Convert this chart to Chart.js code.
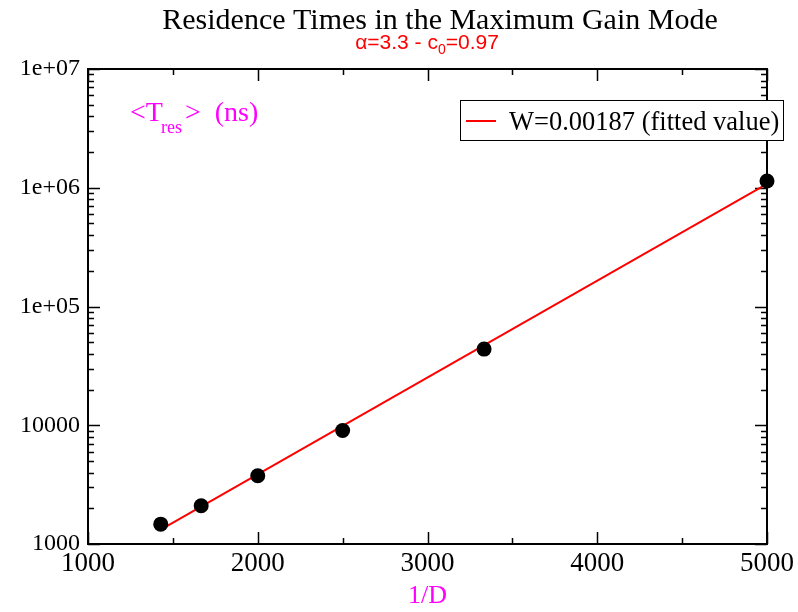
<!DOCTYPE html>
<html>
<head>
<meta charset="utf-8">
<script src="https://cdn.jsdelivr.net/npm/chart.js@4/dist/chart.umd.min.js"></script>
<style>
html, body { margin: 0; padding: 0; background: #fff; }
</style>
</head>
<body>
<canvas id="resChart" width="798" height="612"></canvas>
<script>
// measured points: 1/D vs mean residence time (ns)
var invD = [1428.6, 1666.7, 2000, 2500, 3333.3, 5000];
var tRes = [1470, 2100, 3760, 9030, 43800, 1140000];
// fitted exponential, end points
var fitX = [1428.6, 5000];
var fitY = [1320, 1080000];

var xTicks = [1000, 2000, 3000, 4000, 5000];
var yTicks = [1000, 10000, 100000, 1000000, 10000000];
var yTickLabels = ['1000', '10000', '1e+05', '1e+06', '1e+07'];
var fitLabel = 'W=0.00187 (fitted value)';

var serif = "'Liberation Serif', 'Times New Roman', serif";
var sans = "'Liberation Sans', Arial, sans-serif";

// frame, inward ticks, title, legend and floating labels
var decor = {
  id: 'decor',
  beforeDatasetsDraw: function(chart) {
    var c = chart.ctx, a = chart.chartArea;
    var xs = chart.scales.x, ys = chart.scales.y;
    c.save();
    c.strokeStyle = '#000';
    c.lineWidth = 2;
    c.strokeRect(a.left, a.top, a.right - a.left, a.bottom - a.top);
    c.lineWidth = 1.5;
    c.beginPath();
    xTicks.forEach(function(v) {
      var p = Math.round(xs.getPixelForValue(v)) + 0.5;
      c.moveTo(p, a.bottom); c.lineTo(p, a.bottom - 12);
      c.moveTo(p, a.top); c.lineTo(p, a.top + 12);
    });
    for (var v = 1500; v < 5000; v += 1000) {
      var p = Math.round(xs.getPixelForValue(v)) + 0.5;
      c.moveTo(p, a.bottom); c.lineTo(p, a.bottom - 6);
      c.moveTo(p, a.top); c.lineTo(p, a.top + 6);
    }
    yTicks.forEach(function(v) {
      var p = Math.round(ys.getPixelForValue(v)) + 0.5;
      c.moveTo(a.left, p); c.lineTo(a.left + 12, p);
      c.moveTo(a.right, p); c.lineTo(a.right - 12, p);
    });
    for (var d = 1000; d < 1e7; d *= 10) {
      for (var k = 2; k < 10; k++) {
        var q = Math.round(ys.getPixelForValue(d * k)) + 0.5;
        c.moveTo(a.left, q); c.lineTo(a.left + 6, q);
        c.moveTo(a.right, q); c.lineTo(a.right - 6, q);
      }
    }
    c.stroke();
    c.restore();
  },
  afterDraw: function(chart) {
    var c = chart.ctx;
    c.save();
    c.textBaseline = 'alphabetic';

    // title
    c.fillStyle = '#000';
    c.font = '30px ' + serif;
    c.textAlign = 'center';
    c.fillText('Residence Times in the Maximum Gain Mode', 440, 29);

    // subtitle with subscript
    c.fillStyle = '#ff0000';
    c.textAlign = 'left';
    c.font = '21px ' + sans;
    var s1 = '\u03b1=3.3 - c', s2 = '=0.97';
    var w1 = c.measureText(s1).width;
    c.font = '14px ' + sans;
    var wSub = c.measureText('0').width;
    c.font = '21px ' + sans;
    var w2 = c.measureText(s2).width;
    var sx = 427 - (w1 + wSub + w2) / 2;
    c.fillText(s1, sx, 49);
    c.font = '14px ' + sans;
    c.fillText('0', sx + w1, 54);
    c.font = '21px ' + sans;
    c.fillText(s2, sx + w1 + wSub, 49);

    // y quantity label inside the plot
    c.fillStyle = '#ff00ff';
    c.font = '28px ' + serif;
    var lx = 130;
    c.fillText('<T', lx, 121);
    lx += c.measureText('<T').width - 2;
    c.font = '18px ' + serif;
    c.fillText('res', lx, 133);
    lx += c.measureText('res').width + 3;
    c.font = '28px ' + serif;
    c.fillText('>  (ns)', lx, 121);

    // legend box
    c.fillStyle = '#fff';
    c.fillRect(460, 100, 324, 41);
    c.strokeStyle = '#000';
    c.lineWidth = 1;
    c.strokeRect(460.5, 100.5, 323, 40);
    c.strokeStyle = '#ff0000';
    c.lineWidth = 2;
    c.beginPath();
    c.moveTo(466, 121); c.lineTo(496, 121);
    c.stroke();
    c.fillStyle = '#000';
    c.font = '26.5px ' + serif;
    c.fillText(fitLabel, 509, 130);
    c.restore();
  }
};

new Chart(document.getElementById('resChart'), {
  type: 'scatter',
  data: {
    datasets: [
      {
        label: 'data',
        data: invD.map(function(x, i) { return { x: x, y: tRes[i] }; }),
        pointRadius: 7.5,
        pointHoverRadius: 7.5,
        pointBackgroundColor: '#000',
        pointBorderColor: '#000',
        pointBorderWidth: 0,
        showLine: false,
        clip: false,
        order: 0
      },
      {
        label: fitLabel,
        data: fitX.map(function(x, i) { return { x: x, y: fitY[i] }; }),
        showLine: true,
        borderColor: '#ff0000',
        borderWidth: 2,
        pointRadius: 0,
        fill: false,
        clip: false,
        order: 1
      }
    ]
  },
  options: {
    responsive: false,
    animation: false,
    events: [],
    layout: { padding: { top: 69, right: 30, left: 0, bottom: 0 } },
    plugins: {
      legend: { display: false },
      tooltip: { enabled: false }
    },
    scales: {
      x: {
        type: 'linear',
        min: 1000,
        max: 5000,
        afterBuildTicks: function(s) { s.ticks = xTicks.map(function(v) { return { value: v }; }); },
        afterFit: function(s) { s.height = 68; },
        grid: { display: false, drawTicks: false },
        border: { display: false },
        ticks: {
          padding: 4,
          color: '#000',
          font: { family: serif, size: 27 },
          maxRotation: 0,
          autoSkip: false,
          callback: function(v) { return String(v); }
        },
        title: {
          display: true,
          text: '1/D',
          color: '#ff00ff',
          font: { family: serif, size: 26 },
          padding: { top: 0, bottom: 0 }
        }
      },
      y: {
        type: 'logarithmic',
        min: 1000,
        max: 10000000,
        afterBuildTicks: function(s) { s.ticks = yTicks.map(function(v) { return { value: v }; }); },
        afterFit: function(s) { s.width = 88; },
        grid: { display: false, drawTicks: false },
        border: { display: false },
        ticks: {
          padding: 8,
          color: '#000',
          font: { family: serif, size: 24 },
          autoSkip: false,
          callback: function(v) {
            var i = yTicks.indexOf(v);
            return i >= 0 ? yTickLabels[i] : '';
          }
        }
      }
    }
  },
  plugins: [decor]
});
</script>
</body>
</html>
